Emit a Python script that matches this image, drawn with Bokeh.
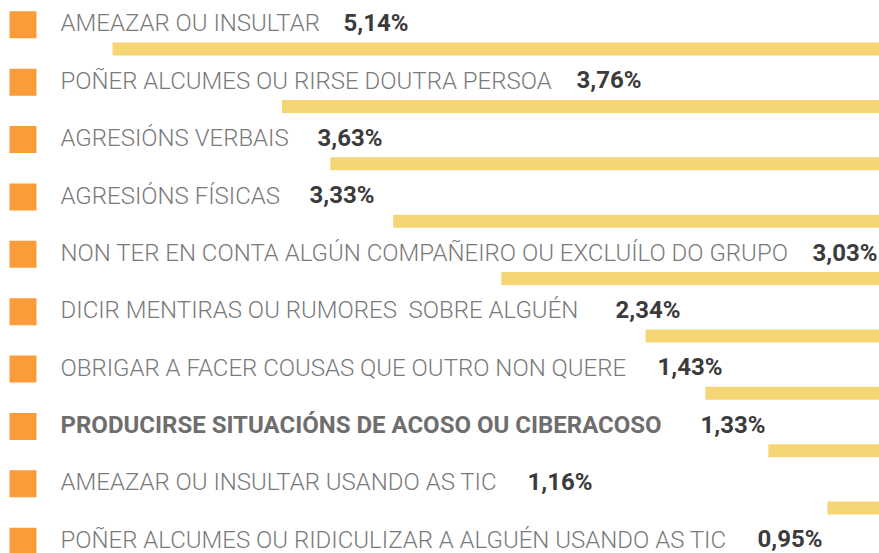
from bokeh.plotting import figure
from bokeh.models import Range1d, ColumnDataSource
from bokeh.core.properties import value
from bokeh.embed import file_html
from bokeh.resources import INLINE

# ---- data ----
labels = [
    "AMEAZAR OU INSULTAR",
    "POÑER ALCUMES OU RIRSE DOUTRA PERSOA",
    "AGRESIÓNS VERBAIS",
    "AGRESIÓNS FÍSICAS",
    "NON TER EN CONTA ALGÚN COMPAÑEIRO OU EXCLUÍLO DO GRUPO",
    "DICIR MENTIRAS OU RUMORES\u00a0 SOBRE ALGUÉN",
    "OBRIGAR A FACER COUSAS QUE OUTRO NON QUERE",
    "PRODUCIRSE SITUACIÓNS DE ACOSO OU CIBERACOSO",
    "AMEAZAR OU INSULTAR USANDO AS TIC",
    "POÑER ALCUMES OU RIDICULIZAR A ALGUÉN USANDO AS TIC",
]
percent_values = [5.14, 3.76, 3.63, 3.33, 3.03, 2.34, 1.43, 1.33, 1.16, 0.95]
# decorative bar lengths (relative to the longest bar = 100)
bar_lengths = [100, 77.9, 71.6, 63.4, 49.3, 30.5, 22.7, 14.5, 6.8, 3.0]
highlight = [False, False, False, False, False, False, False, True, False, False]

# ---- layout (page pixels) ----
W, H = 879, 553
PAGE = 0
ROW0 = 24.3
STEP = 57.375
BAR_RIGHT = 879.0
FULL_BAR_PX = 767.0
LABEL_X = 60
SQUARE_X = 22.5
value_x = [343, 576, 317, 309, 812, 615, 657, 700, 527, 757]

n = len(labels)
rows = list(range(n))

y_top = (PAGE - ROW0) / STEP
y_bottom = (PAGE + H - ROW0) / STEP

p = figure(width=W, height=H, output_backend="svg", toolbar_location=None,
           x_range=Range1d(PAGE, PAGE + W), y_range=Range1d(y_bottom, y_top),
           x_axis_location=None, y_axis_location=None, min_border=0)
p.grid.visible = False
p.outline_line_color = None
p.background_fill_color = "white"
p.border_fill_color = "white"

px_per_unit = FULL_BAR_PX / 100.0
p.extra_x_ranges = {"bar": Range1d((BAR_RIGHT - PAGE) / px_per_unit,
                                   (BAR_RIGHT - PAGE - W) / px_per_unit)}

bar_src = ColumnDataSource(dict(y=[r + 24.2 / STEP for r in rows],
                                zero=[0] * n, right=bar_lengths))
p.hbar(y="y", left="zero", right="right", height=13.0 / STEP, source=bar_src,
       x_range_name="bar", fill_color="#F6D574", line_color=None)

p.scatter(x=[SQUARE_X] * n, y=rows, marker="square", size=27,
          fill_color="#FB9C3A", line_color=None)

lab_src = ColumnDataSource(dict(
    x=[LABEL_X] * n,
    y=[r - 1.4 / STEP for r in rows],
    text=labels,
    font=["Roboto" if h else "Roboto Light" for h in highlight],
    style=["bold" if h else "normal" for h in highlight],
    color=["#6e6e6e" if h else "#7a7a7a" for h in highlight],
))
p.text(x="x", y="y", text="text", source=lab_src, text_font="font",
       text_font_style="style", text_color="color", text_font_size="24px",
       text_baseline="alphabetic", text_align="left")

val_src = ColumnDataSource(dict(
    x=value_x,
    y=[r - 1.8 / STEP for r in rows],
    text=[f"{v:.2f}".replace(".", ",") + "%" for v in percent_values],
))
p.text(x="x", y="y", text="text", source=val_src, text_font=value("Roboto"),
       text_font_style="bold", text_color="#3b3b3b", text_font_size="24px",
       text_baseline="alphabetic", text_align="left")

open("out.html", "w").write(file_html(p, INLINE))
